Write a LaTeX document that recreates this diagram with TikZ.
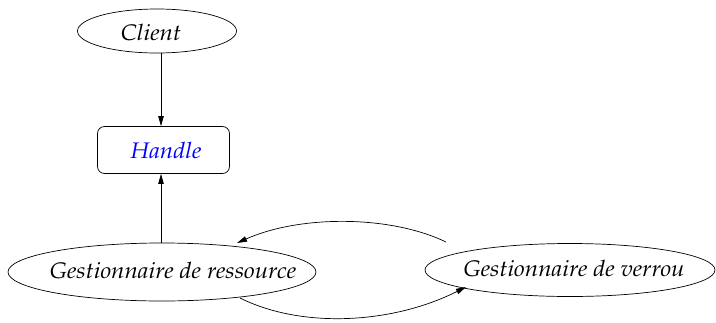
\documentclass[tikz,border=0pt]{standalone}
\usepackage[T1]{fontenc}
\usepackage{mathpazo}
\usepackage{graphicx}
\usetikzlibrary{shapes.geometric,arrows.meta}
\newcommand{\wide}[1]{\scalebox{1.07}[1]{#1}}
\begin{document}
\begin{tikzpicture}[x=1pt,y=-1pt,
  ell/.style={draw,ellipse,inner sep=0pt,line width=0.7pt},
  lbl/.style={font=\fontsize{22.5}{26}\selectfont\itshape,inner sep=0pt},
  arr/.style={-{Triangle[length=10pt,width=5.5pt]},line width=0.7pt}]
\useasboundingbox (0,0) rectangle (716,322);
\node[ell,minimum width=159pt,minimum height=44pt] (client) at (157,31) {};
\node[lbl] (clientt) at (151,32) {\wide{Client}};
\node[draw,rounded corners=7pt,line width=0.7pt,minimum width=132pt,minimum height=47pt] (handle) at (163.5,150) {};
\node[lbl,text=blue] (handlet) at (166,150) {\wide{Handle}};
\node[ell,minimum width=308pt,minimum height=58pt] (res) at (162,272) {};
\node[lbl] (rest) at (173,270) {\wide{Gestionnaire de ressource}};
\node[ell,minimum width=290pt,minimum height=53pt] (ver) at (570,270) {};
\node[lbl] (vert) at (574,268) {\wide{Gestionnaire de verrou}};
\draw[arr] (client.south -| 161,0) -- (handle.north -| 161,0);
\draw[arr] (res.north -| 161,0) -- (handle.south -| 161,0);
\draw[arr] (446,242) .. controls (390,215) and (300,215) .. (237,243);
\draw[arr] (240,298) .. controls (300,328) and (390,325) .. (466,287);
\end{tikzpicture}
\end{document}
